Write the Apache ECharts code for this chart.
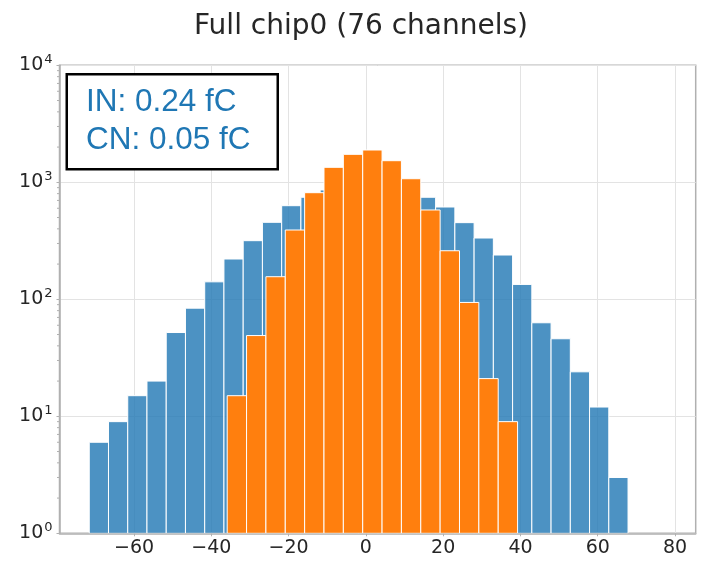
<!DOCTYPE html>
<html>
<head>
<meta charset="utf-8">
<script src="https://cdn.jsdelivr.net/npm/echarts@6/dist/echarts.min.js"></script>
<style>html,body{margin:0;padding:0;background:#fff;}#c{width:706px;height:570px;}</style>
</head>
<body>
<div id="c"></div>
<script>
// ---- data ----
const titleText = 'Full chip0 (76 channels)';
const boxLines = ['IN: 0.24 fC', 'CN: 0.05 fC'];
const xTicks = [-60, -40, -20, 0, 20, 40, 60, 80];
const yTicks = [1, 10, 100, 1000, 10000];
// Blue histogram: first bin edge, bin width, counts per bin (28 bins)
const blueFirstEdge = -71.6;
const blueBinWidth = 4.98;
const blueCounts = [6, 9, 15, 20, 52, 84, 141, 221, 317, 455, 631, 745, 860, 940, 960, 880, 820, 745, 615, 452, 334, 239, 134, 63, 46, 24, 12, 3];
// Orange histogram (15 bins)
const orangeFirstEdge = -35.9;
const orangeBinWidth = 5.01;
const orangeCounts = [15, 49, 156, 391, 815, 1343, 1734, 1888, 1530, 1073, 580, 260, 94, 21, 9];

function binsOf(first, w, counts) {
  return counts.map((c, i) => [first + i * w, first + (i + 1) * w, c]);
}
const blueData = binsOf(blueFirstEdge, blueBinWidth, blueCounts);
const orangeData = binsOf(orangeFirstEdge, orangeBinWidth, orangeCounts);

// minor tick values for log axis
const minorVals = [];
for (let d = 1; d < 10000; d *= 10) for (let k = 2; k <= 9; k++) minorVals.push(d * k);

const chart = echarts.init(document.getElementById('c'), null, {renderer: 'canvas'});

function barRender(fill) {
  return function (params, api) {
    const x0 = api.value(0), x1 = api.value(1), v = api.value(2);
    const p0 = api.coord([x0, v]);
    const p1 = api.coord([x1, 1]);
    return {
      type: 'rect',
      shape: {x: p0[0], y: p0[1], width: p1[0] - p0[0], height: p1[1] - p0[1]},
      style: {fill: fill, stroke: '#ffffff', lineWidth: 1}
    };
  };
}

const fmtX = v => (v < 0 ? '\u2212' + Math.abs(v) : String(v));
const fmtY = v => '{b|10}{s|' + Math.round(Math.log10(v)) + '}';

chart.setOption({
  animation: false,
  backgroundColor: '#ffffff',
  title: {
    text: titleText,
    left: 356, top: 8, textAlign: 'center',
    textStyle: {fontFamily: 'DejaVu Sans', fontSize: 28, fontWeight: 'normal', color: '#262626'}
  },
  grid: {left: 59.5, right: 10.3, top: 65.3, bottom: 36.7, show: true, borderColor: '#b0b0b0', borderWidth: 1.5, backgroundColor: 'transparent'},
  xAxis: {
    type: 'value', min: -79.3, max: 85.35,
    axisLine: {show: true, onZero: false, lineStyle: {color: '#b0b0b0', width: 1.5}},
    axisTick: {show: true, length: 3, lineStyle: {color: '#b0b0b0'}, customValues: xTicks},
    axisLabel: {customValues: xTicks, formatter: fmtX, fontFamily: 'DejaVu Sans', fontSize: 19, color: '#262626', margin: 5},
    splitLine: {show: true, lineStyle: {color: '#e3e3e3', width: 1}}
  },
  yAxis: {
    type: 'log', logBase: 10, min: 1, max: 10000,
    axisLine: {show: true, onZero: false, lineStyle: {color: '#b0b0b0', width: 1.5}},
    axisTick: {show: true, length: 3, lineStyle: {color: '#b0b0b0'}},
    axisLabel: {
      formatter: fmtY, margin: 7, color: '#262626',
      rich: {
        b: {fontFamily: 'DejaVu Sans', fontSize: 19, color: '#262626'},
        s: {fontFamily: 'DejaVu Sans', fontSize: 13, color: '#262626', padding: [0, 0, 12, 1]}
      }
    },
    splitLine: {show: true, lineStyle: {color: '#e3e3e3', width: 1}}
  },
  series: [
    {type: 'custom', name: 'full', data: blueData, renderItem: barRender('rgba(31,119,180,0.8)'), z: 2, clip: true},
    {type: 'custom', name: 'cn', data: orangeData, renderItem: barRender('#ff7f0e'), z: 3, clip: true},
    {
      type: 'custom', name: 'minor', data: minorVals.map(v => [v]), z: 4, silent: true,
      renderItem: function (params, api) {
        const cs = params.coordSys;
        const y = api.coord([0, api.value(0)])[1];
        return {type: 'line', shape: {x1: cs.x - 2.5, y1: y, x2: cs.x, y2: y}, style: {stroke: '#b0b0b0', lineWidth: 1}};
      },
      encode: {y: 0}
    }
  ],
  graphic: [
    {type: 'rect', left: 65.5, top: 73, shape: {width: 211, height: 95}, style: {fill: '#ffffff', stroke: '#000000', lineWidth: 2.5}, z: 100},
    {type: 'text', left: 86, top: 86, style: {text: boxLines[0], fontFamily: 'Liberation Sans', fontSize: 31.5, fill: '#1f77b4'}, z: 101},
    {type: 'text', left: 86, top: 124, style: {text: boxLines[1], fontFamily: 'Liberation Sans', fontSize: 31.5, fill: '#1f77b4'}, z: 101}
  ]
});
</script>
</body>
</html>
